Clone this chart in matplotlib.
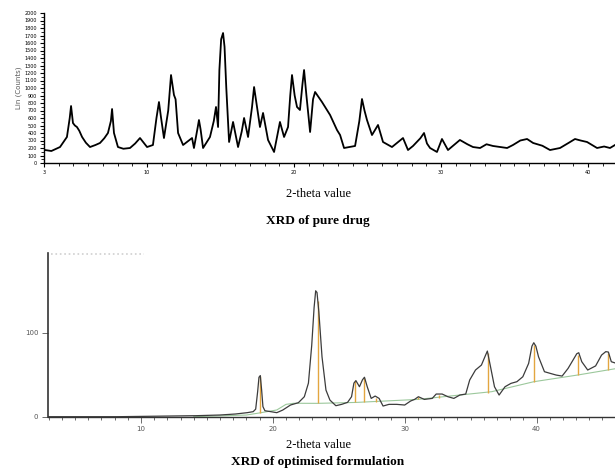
import matplotlib

matplotlib.use("Agg")
import matplotlib.pyplot as plt
from matplotlib.ticker import MultipleLocator

# XRD of pure drug (2-theta, Lin counts)
drug_theta = [
    3.07, 3.5, 4.09, 4.56, 4.75, 4.84, 4.97, 5.1, 5.24, 5.4, 5.59, 5.85, 6.13,
    6.5, 6.81, 7.1, 7.35, 7.55, 7.63, 7.76, 8.03, 8.4, 8.85, 9.2, 9.53, 10.01,
    10.41, 10.65, 10.82, 10.95, 11.16, 11.45, 11.64, 11.84, 11.95, 12.12, 12.46,
    13.07, 13.20, 13.45, 13.54, 13.65, 13.82, 14.29, 14.55, 14.70, 14.84, 14.93,
    15.05, 15.18, 15.28, 15.40, 15.59, 15.86, 16.20, 16.45, 16.61, 16.88, 17.15,
    17.29, 17.49, 17.69, 17.90, 18.24, 18.65, 19.05, 19.33, 19.60, 19.75, 19.87,
    20.05, 20.21, 20.41, 20.58, 20.69, 20.85, 21.10, 21.30, 21.44, 21.91, 22.46,
    22.93, 23.14, 23.41, 24.16, 24.45, 24.63, 24.80, 24.97, 25.31, 25.72, 26.06,
    26.67, 27.42, 27.76, 28.10, 28.6, 28.85, 29.05, 29.26, 29.73, 30.07, 30.48,
    31.29, 31.8, 32.18, 32.66, 33.1, 33.54, 34.50, 34.90, 35.4, 35.86, 36.27,
    36.9, 37.42, 38.10, 38.7, 39.12, 39.5, 39.94, 40.62, 41.1, 41.50, 41.84,
]
drug_counts = [
    173, 160, 213, 347, 600, 760, 533, 500, 480, 430, 347, 270, 213,
    240, 267, 330, 400, 560, 720, 400, 213, 190, 200, 260, 333, 213,
    240, 600, 813, 620, 333, 700, 1173, 907, 850, 400, 240,
    333, 200, 470, 573, 450, 200, 347, 560, 747, 480, 1240,
    1650, 1733, 1550, 1000, 280, 547, 213, 420, 600, 347, 747,
    1013, 747, 480, 667, 307, 147, 547, 347, 480, 900, 1173,
    900, 747, 707, 1050, 1240, 900, 413, 850, 947, 813, 640,
    440, 373, 200, 227, 560, 853, 700, 573, 373, 507, 280,
    213, 333, 173, 227, 330, 400, 260, 200, 147, 320, 173,
    307, 250, 213, 200, 250, 227, 200, 240, 300, 320, 267,
    230, 173, 200, 270, 320, 300, 280, 200, 220, 200, 240,
]

# XRD of optimised formulation
form_theta = [
    2.95, 8.2, 14.18, 15.97, 17.16, 18.06, 18.51, 18.70, 18.85, 18.95, 19.05,
    19.15, 19.25, 19.40, 19.85, 20.30, 20.75, 21.34, 21.94, 22.39, 22.70, 22.95,
    23.13, 23.25, 23.35, 23.49, 23.73, 24.03, 24.33, 24.78, 25.22, 25.67, 25.97,
    26.15, 26.30, 26.57, 26.80, 26.95, 27.16, 27.46, 27.76, 28.06, 28.36, 28.81,
    29.40, 30.00, 30.45, 30.75, 31.04, 31.49, 32.09, 32.39, 32.84, 33.28, 33.73,
    34.18, 34.63, 34.93, 35.37, 35.82, 36.10, 36.27, 36.51, 36.81, 37.16, 37.61,
    38.06, 38.51, 38.96, 39.40, 39.65, 39.79, 39.95, 40.15, 40.60, 41.04, 41.49,
    41.94, 42.39, 42.84, 43.05, 43.20, 43.43, 43.88, 44.48, 44.93, 45.25, 45.45,
    45.67, 46.06,
]
form_counts = [
    0, 0, 1.2, 2, 3.2, 4.8, 6, 9, 30, 47, 49,
    32, 12, 7.1, 6, 4.8, 7.9, 13.9, 16.7, 23.8, 40, 85,
    130, 150, 148, 125, 71.4, 31.7, 19.8, 13.1, 14.7, 17.1, 23.8,
    40, 43, 35.7, 44, 47, 35.7, 21.8, 24.6, 21.8, 12.7, 14.7,
    14.7, 13.9, 18.7, 20.6, 23.8, 20.6, 21.8, 27, 27, 23.8, 21.8,
    25.8, 27, 43.7, 55.6, 61.5, 72, 78.2, 59.5, 35.7, 25.8, 35.7,
    39.7, 41.7, 47.6, 63.5, 84, 88.1, 84, 71.4, 53.6, 51.6, 49.6,
    48.4, 57.5, 69.4, 75, 76.2, 65.5, 55.6, 60.5, 73.4, 77.5, 77,
    65.5, 63.5,
]

# fitted background and peak sticks
bg_theta = [14.0, 18.0, 19.0, 20.3, 21.0, 21.6, 23.4, 26.3, 31.0, 36.6, 39.8, 43.1, 46.1]
bg_counts = [0, 2, 4.5, 8, 14.7, 16, 15.9, 17, 20.6, 29.8, 41.7, 49.6, 57.5]
peak_theta = [19.05, 23.4, 26.2, 26.9, 27.8, 31.0, 32.6, 36.3, 39.8, 43.15, 45.4]
peak_top = [48, 138, 42, 46, 22, 24, 26, 76, 86, 74, 76]
peak_base = [4.6, 15.9, 17, 17.2, 17.6, 20.6, 22, 28.5, 41.7, 49.6, 55.6]

fig = plt.figure(figsize=(6.15, 4.70), dpi=100)
serif = ["Liberation Serif", "DejaVu Serif"]

# ---- top panel ----
ax1 = fig.add_axes([44 / 615, 1 - 163 / 470, 1 - 44 / 615, 150 / 470])
ax1.plot(drug_theta, drug_counts, color="black", lw=1.3)
ax1.set_xlim(3, 41.84)
ax1.set_ylim(0, 2000)
ax1.spines[["top", "right"]].set_visible(False)
ax1.spines["left"].set_linewidth(1.0)
ax1.spines["bottom"].set_linewidth(1.0)
ax1.set_yticks(range(0, 2001, 100))
ax1.set_yticklabels([str(v) for v in range(0, 2001, 100)])
ax1.yaxis.set_minor_locator(MultipleLocator(50))
ax1.set_xticks([3, 10, 20, 30, 40])
ax1.xaxis.set_minor_locator(MultipleLocator(1))
ax1.tick_params(axis="both", which="major", labelsize=3.5, length=3, width=0.8,
                colors="black", pad=2)
ax1.tick_params(axis="both", which="minor", length=2, width=0.6)
ax1.set_ylabel("Lin (Counts)", fontsize=5, color="#555555", labelpad=2)
fig.text(318 / 615, 1 - 194 / 470, "2-theta value", ha="center", va="center",
         family=serif, fontsize=9)
fig.text(318 / 615, 1 - 221 / 470, "XRD of pure drug", ha="center", va="center",
         family=serif, fontsize=9.5, fontweight="bold")

# ---- bottom panel ----
ax2 = fig.add_axes([48 / 615, 1 - 416.7 / 470, 1 - 48 / 615, 163.7 / 470])
ax2.plot(bg_theta, bg_counts, color="#9cc89c", lw=0.8)
ax2.vlines(peak_theta, peak_base, peak_top, color="#e3a640", lw=1.0)
ax2.plot(form_theta, form_counts, color="#3c3c3c", lw=0.9)
ax2.plot([0.005, 0.17], [0.995, 0.995], transform=ax2.transAxes, color="#d0d0d0",
         ls=":", lw=1.2)
ax2.set_xlim(2.95, 45.95)
ax2.set_ylim(0, 195)
ax2.spines[["top", "right"]].set_visible(False)
ax2.spines["left"].set_color("#333333")
ax2.spines["bottom"].set_color("#333333")
ax2.spines["left"].set_linewidth(1.2)
ax2.spines["bottom"].set_linewidth(1.0)
ax2.set_yticks([0, 100])
ax2.set_xticks([10, 20, 30, 40])
ax2.xaxis.set_minor_locator(MultipleLocator(1))
ax2.tick_params(axis="both", which="major", labelsize=5, labelcolor="#555555",
                length=4, width=0.6, color="#555555", pad=3)
ax2.tick_params(axis="x", which="minor", length=2, width=0.6, color="#555555")
fig.text(318 / 615, 1 - 445 / 470, "2-theta value", ha="center", va="center",
         family=serif, fontsize=9)
fig.text(318 / 615, 1 - 462 / 470, "XRD of optimised formulation", ha="center",
         va="center", family=serif, fontsize=9.5, fontweight="bold")

fig.savefig("out.png", dpi=100)
